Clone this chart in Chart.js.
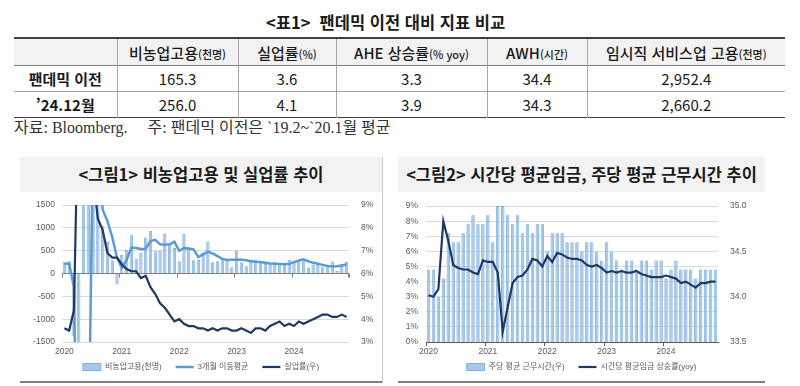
<!DOCTYPE html>
<html lang="ko">
<head>
<meta charset="utf-8">
<script src="https://cdn.jsdelivr.net/npm/chart.js@4.4.1/dist/chart.umd.min.js"></script>
<style>
  html, body { margin: 0; padding: 0; background: #fff; }
  body { width: 800px; height: 386px; position: relative; overflow: hidden;
         font-family: "Noto Sans CJK KR", sans-serif; color: #1a1a1a; }
  .tbl-title { position: absolute; left: 266px; top: 10px; white-space: pre;
               font-size: 16.5px; font-weight: 700; line-height: 24px; }
  table { position: absolute; left: 14px; top: 37px; width: 771px; border-collapse: collapse;
          table-layout: fixed; font-size: 15px; }
  th, td { text-align: center; padding: 0; border-left: 1px solid #a6a6a6; }
  th:first-child, td:first-child { border-left: none; }
  thead tr { background: #f2f2f2; border-top: 2px solid #404040; border-bottom: 1px solid #7f7f7f; }
  th { font-weight: 500; height: 26px; }
  th small { font-size: 11px; }
  tbody tr { border-bottom: 1px solid #a6a6a6; }
  tbody tr:last-child { border-bottom: 1.5px solid #404040; }
  td { height: 25px; }
  td:first-child { font-weight: 700; }
  .note { position: absolute; left: 14px; top: 117px; font-size: 16px; line-height: 21px;
          font-family: "Liberation Serif", "Noto Sans CJK KR", serif; color: #333; white-space: pre; }
  .panel-title { position: absolute; top: 157px; height: 35px; background: #f2f2f2;
                 text-align: center; font-size: 16.5px; font-weight: 700; line-height: 35px; white-space: pre; }
  .sep { position: absolute; left: 382px; top: 157px; width: 1px; height: 226px; background: #c8c8c8; }
  .rule { position: absolute; top: 381px; height: 1.5px; background: #7f7f7f; }
  .box { position: absolute; top: 193px; height: 188px; }
</style>
</head>
<body>
<div class="tbl-title">&lt;표1&gt;  팬데믹 이전 대비 지표 비교</div>
<table id="tbl"></table>
<div class="note">자료: Bloomberg.     주: 팬데믹 이전은 `19.2~`20.1월 평균</div>

<div class="panel-title" style="left:20px;width:362px;">&lt;그림1&gt; 비농업고용 및 실업률 추이</div>
<div class="panel-title" style="left:398px;width:367px;">&lt;그림2&gt; 시간당 평균임금, 주당 평균 근무시간 추이</div>
<div class="sep"></div>
<div class="rule" style="left:20px;width:362px;"></div>
<div class="rule" style="left:398px;width:367px;"></div>

<div class="box" style="left:20px;width:362px;"><canvas id="c1" width="362" height="188"></canvas></div>
<div class="box" style="left:398px;width:367px;"><canvas id="c2" width="367" height="188"></canvas></div>

<script>
// ---- table ----
const colWidths = [103, 121, 98, 151, 100, 198];
const tableHeaders = [["", ""], ["비농업고용", "(천명)"], ["실업률", "(%)"], ["AHE 상승률", "(% yoy)"], ["AWH", "(시간)"], ["임시직 서비스업 고용", "(천명)"]];
const tableRows = [
  ["팬데믹 이전", "165.3", "3.6", "3.3", "34.4", "2,952.4"],
  ["’24.12월", "256.0", "4.1", "3.9", "34.3", "2,660.2"],
];

// ---- chart data (monthly, 2020.1 ~) ----
const years = ["2020", "2021", "2022", "2023", "2024"];

// 비농업고용 변화 (천명), 2020.1 ~ 2024.12
const payrolls = [
  257, 271, -1373, -20500, 2700, 4800, 1700, 1500, 1050, 690, 290, -240,
  410, 520, 840, 330, 460, 790, 940, 490, 500, 870, 650, 560,
  270, 870, 540, 290, 300, 460, 700, 250, 270, 330, 290, 140,
  500, 250, 160, 300, 310, 280, 210, 230, 260, 200, 200, 300,
  255, 275, 320, 130, 200, 210, 140, 140, 265, 55, 215, 256,
];
// 3개월 이동평균 (천명)
const payrollAvg3m = [
  214, 214, -300, -7200, -6000, -4300, 3100, 2700, 1400, 1150, 800, 350,
  130, 300, 570, 560, 540, 540, 710, 740, 640, 630, 640, 700,
  500, 560, 550, 530, 360, 420, 480, 440, 380, 320, 295, 300,
  305, 305, 290, 270, 257, 255, 235, 220, 215, 210, 205, 215,
  250, 285, 310, 270, 235, 215, 190, 165, 155, 160, 175, 200,
];
// 실업률 (%)
const unemployment = [
  3.6, 3.5, 4.4, 14.7, 13.2, 11.0, 10.2, 8.4, 7.9, 6.9, 6.7, 6.7,
  6.4, 6.2, 6.1, 6.1, 5.8, 5.9, 5.4, 5.1, 4.7, 4.5, 4.2, 3.9,
  4.0, 3.8, 3.7, 3.7, 3.6, 3.6, 3.5, 3.6, 3.5, 3.6, 3.6, 3.5,
  3.5, 3.6, 3.5, 3.4, 3.6, 3.6, 3.5, 3.7, 3.8, 3.9, 3.7, 3.8,
  3.7, 3.9, 3.8, 3.9, 4.0, 4.1, 4.2, 4.2, 4.1, 4.1, 4.2, 4.1,
];

// 주당 평균 근무시간 (시간), 2020.1 ~ 2024.11
const weeklyHours = [
  34.3, 34.3, 34.0, 34.2, 34.7, 34.6, 34.6, 34.7, 34.8, 34.9, 34.8, 34.8,
  34.9, 34.6, 35.0, 35.0, 34.9, 34.8, 34.9, 34.7, 34.8, 34.7, 34.8, 34.8,
  34.5, 34.7, 34.7, 34.7, 34.6, 34.6, 34.6, 34.5, 34.6, 34.6, 34.5, 34.4,
  34.6, 34.5, 34.4, 34.3, 34.4, 34.4, 34.3, 34.4, 34.4, 34.3, 34.4, 34.4,
  34.2, 34.3, 34.4, 34.3, 34.3, 34.3, 34.2, 34.3, 34.3, 34.3, 34.3,
];
// 시간당 평균임금 상승률 (% yoy)
const wageGrowth = [
  3.1, 3.0, 3.5, 8.0, 6.7, 5.1, 4.9, 4.8, 4.8, 4.6, 4.5, 5.4,
  5.3, 5.3, 4.6, 0.7, 2.3, 3.9, 4.3, 4.4, 4.8, 5.5, 5.4, 5.0,
  5.7, 5.3, 5.9, 5.8, 5.6, 5.5, 5.5, 5.4, 5.1, 5.0, 5.1, 4.9,
  4.6, 4.7, 4.6, 4.7, 4.6, 4.6, 4.7, 4.5, 4.4, 4.3, 4.3, 4.3,
  4.4, 4.3, 4.2, 3.9, 4.0, 3.8, 3.6, 3.9, 3.9, 4.0, 4.0,
];

// build table
const tbl = document.getElementById("tbl");
tbl.innerHTML =
  "<colgroup>" + colWidths.map((w) => `<col style="width:${w}px">`).join("") + "</colgroup>" +
  "<thead><tr>" + tableHeaders.map((h) => `<th>${h[0]}<small>${h[1]}</small></th>`).join("") + "</tr></thead>" +
  "<tbody>" + tableRows.map((r) => "<tr>" + r.map((c) => `<td>${c}</td>`).join("") + "</tr>").join("") + "</tbody>";

const monthLabels = (n) => Array.from({ length: n }, (_, i) => `${years[Math.floor(i / 12)]}.${(i % 12) + 1}`);
const yearTick = (v, i) => (i % 12 === 0 ? years[i / 12] : "");

const FONT = '"Liberation Sans", "Noto Sans CJK KR", sans-serif';
const GREY = "#595959";
const GRID = "#d9d9d9";
const BAR_FILL = "#a4c8ea";
const BAR_EDGE = "#6fa3d6";
const NAVY = "#1f3864";

Chart.defaults.font.family = FONT;
Chart.defaults.font.size = 8.5;
Chart.defaults.color = GREY;
Chart.defaults.animation = false;

// small tick marks on the zero line at each January (그림1)
const zeroTicks = {
  id: "zeroTicks",
  afterDatasetsDraw(chart) {
    const x = chart.scales.x;
    const y0 = chart.scales.y.getPixelForValue(0);
    const slot = x.width / chart.data.labels.length;
    const ctx = chart.ctx;
    ctx.save();
    ctx.strokeStyle = "#7f7f7f";
    ctx.lineWidth = 1;
    ctx.beginPath();
    for (let i = 0; i <= chart.data.labels.length; i += 12) {
      const px = Math.round(x.left + i * slot) + 0.5;
      ctx.moveTo(px, y0);
      ctx.lineTo(px, y0 + 4);
    }
    ctx.moveTo(Math.round(x.right) - 0.5, y0);
    ctx.lineTo(Math.round(x.right) - 0.5, y0 + 4);
    ctx.stroke();
    ctx.restore();
  },
};

// legend in dataset order, with a little extra gap between entries
const legendWithGaps = (gap) => ({
  position: "bottom",
  labels: {
    usePointStyle: true,
    pointStyleWidth: 18,
    boxHeight: 7,
    padding: 5,
    color: GREY,
    font: { size: 8, family: FONT },
    generateLabels(chart) {
      const items = Chart.defaults.plugins.legend.labels.generateLabels(chart);
      items.sort((a, b) => a.datasetIndex - b.datasetIndex);
      return items.map((it, i) => (i < items.length - 1 ? { ...it, text: it.text + gap } : it));
    },
  },
});

new Chart(document.getElementById("c1"), {
  type: "bar",
  data: {
    labels: monthLabels(payrolls.length),
    datasets: [
      {
        label: "비농업고용(천명)",
        data: payrolls,
        backgroundColor: BAR_FILL,
        borderColor: BAR_EDGE,
        borderWidth: 0.8,
        barPercentage: 0.68,
        categoryPercentage: 1,
        pointStyle: "rect",
        yAxisID: "y",
        order: 3,
      },
      {
        type: "line",
        label: "3개월 이동평균",
        data: payrollAvg3m,
        borderColor: "#5b9bd5",
        backgroundColor: "#5b9bd5",
        borderWidth: 2.5,
        pointRadius: 0,
        pointStyle: "line",
        tension: 0,
        yAxisID: "y",
        order: 2,
      },
      {
        type: "line",
        label: "실업률(우)",
        data: unemployment,
        borderColor: NAVY,
        backgroundColor: NAVY,
        borderWidth: 2.2,
        pointRadius: 0,
        pointStyle: "line",
        tension: 0,
        yAxisID: "y1",
        order: 1,
      },
    ],
  },
  options: {
    responsive: false,
    layout: { padding: { top: 10, left: 0, right: 0, bottom: 0 } },
    plugins: { legend: legendWithGaps("    "), tooltip: { enabled: false } },
    scales: {
      x: {
        grid: { display: true, drawOnChartArea: false, drawTicks: true, tickLength: 4, color: "transparent" },
        border: { display: false },
        ticks: { autoSkip: false, maxRotation: 0, padding: 1, callback: yearTick },
        afterFit: (s) => { s.height = 16; },
      },
      y: {
        position: "left",
        min: -1500,
        max: 1500,
        ticks: { stepSize: 500, padding: 7, callback: (v) => String(v) },
        grid: { color: (c) => (c.tick.value === 0 ? "#7f7f7f" : GRID), drawTicks: false },
        border: { display: false },
        afterFit: (s) => { s.width = 42; },
      },
      y1: {
        position: "right",
        min: 3,
        max: 9,
        ticks: { stepSize: 1, padding: 4, callback: (v) => v + "%" },
        grid: { display: false },
        border: { display: false },
        afterFit: (s) => { s.width = 33; },
      },
    },
  },
  plugins: [zeroTicks],
});

new Chart(document.getElementById("c2"), {
  type: "bar",
  data: {
    labels: monthLabels(weeklyHours.length),
    datasets: [
      {
        label: "주당 평균 근무시간(우)",
        data: weeklyHours,
        backgroundColor: BAR_FILL,
        borderColor: BAR_EDGE,
        borderWidth: 0.8,
        barPercentage: 0.68,
        categoryPercentage: 1,
        pointStyle: "rect",
        yAxisID: "y1",
        order: 2,
      },
      {
        type: "line",
        label: "시간당 평균임금 상승률(yoy)",
        data: wageGrowth,
        borderColor: NAVY,
        backgroundColor: NAVY,
        borderWidth: 2.2,
        pointRadius: 0,
        pointStyle: "line",
        tension: 0,
        yAxisID: "y",
        order: 1,
      },
    ],
  },
  options: {
    responsive: false,
    layout: { padding: { top: 10, left: 0, right: 0, bottom: 0 } },
    plugins: { legend: legendWithGaps("    "), tooltip: { enabled: false } },
    scales: {
      x: {
        grid: {
          drawOnChartArea: false,
          tickLength: 4,
          color: (c) => (c.index % 12 === 0 ? "#595959" : "transparent"),
        },
        border: { display: true, color: "#595959", width: 1 },
        ticks: { autoSkip: false, maxRotation: 0, padding: 1, callback: yearTick },
        afterFit: (s) => { s.height = 16; },
      },
      y: {
        position: "left",
        min: 0,
        max: 9,
        ticks: { stepSize: 1, padding: 8, callback: (v) => v + "%" },
        grid: { color: GRID, drawTicks: false },
        border: { display: false },
        afterFit: (s) => { s.width = 28; },
      },
      y1: {
        position: "right",
        min: 33.5,
        max: 35,
        ticks: { stepSize: 0.5, padding: 4, callback: (v) => v.toFixed(1) },
        grid: { display: false },
        border: { display: false },
        afterFit: (s) => { s.width = 47; },
      },
    },
  },
});
</script>
</body>
</html>
